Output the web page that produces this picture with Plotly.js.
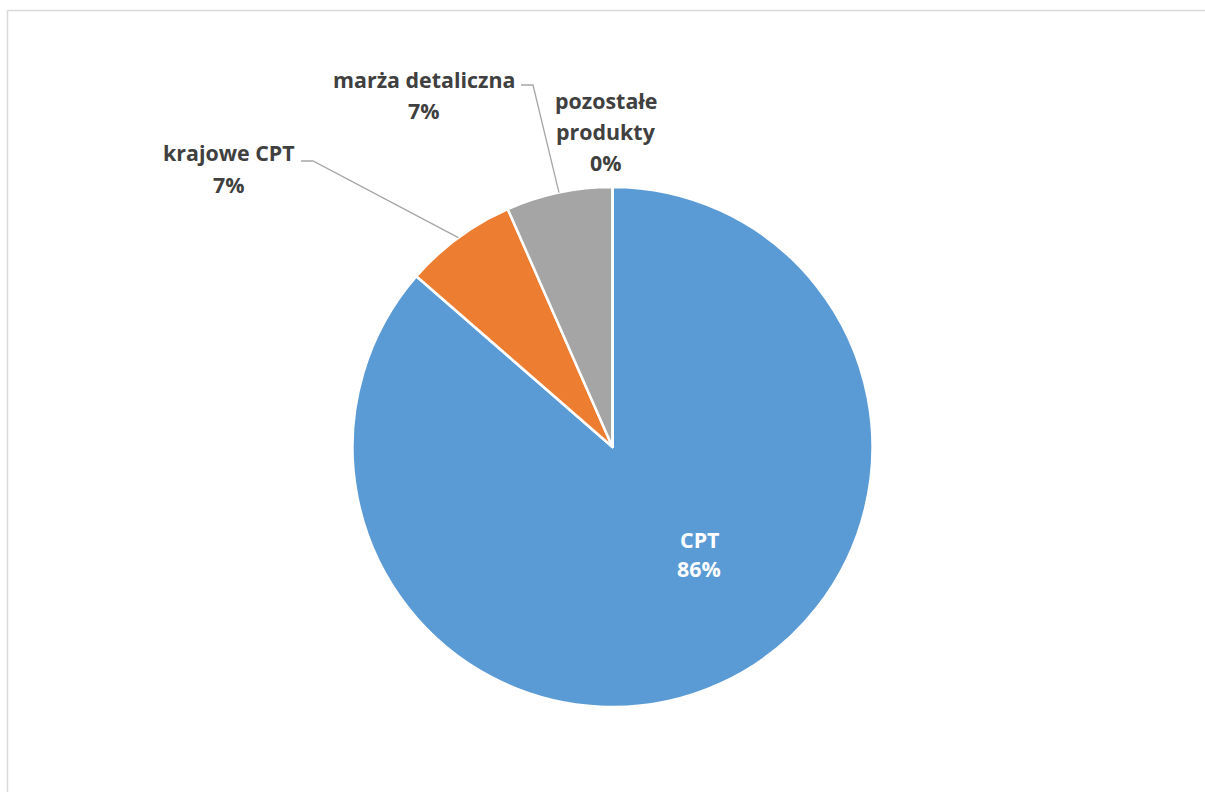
<!DOCTYPE html>
<html>
<head>
<meta charset="utf-8">
<script src="https://cdn.plot.ly/plotly-3.0.1.min.js"></script>
<style>
  html, body { margin: 0; padding: 0; background: #ffffff; }
  #chart { width: 1205px; height: 792px; }
</style>
</head>
<body>
<div id="chart"></div>
<script>
// ---- data ----
const categories = ["CPT", "krajowe CPT", "marża detaliczna", "pozostałe produkty"];
const shares = [86.4, 7.0, 6.6, 0.0];
const sliceColors = ["#5B9BD5", "#ED7D31", "#A5A5A5", "#FFC000"];

// ---- geometry / layout ----
const W = 1205, H = 792;
const cx = 612.5, cy = 447, R = 260;
const px = x => x / W;
const py = y => 1 - y / H;

const total = shares.reduce((a, b) => a + b, 0);
const pct = shares.map(v => Math.round(v / total * 100) + "%");

// midpoint angle of each slice (clockwise from 12 o'clock) -> edge point in pixels
let acc = 0;
const edge = shares.map(v => {
  const mid = (acc + v / 2) / total * 2 * Math.PI;
  acc += v;
  return [cx + R * Math.sin(mid), cy - R * Math.cos(mid)];
});

const textColor = "#404040";
const fontFam = "'Open Sans', 'Noto Sans', sans-serif";
const fs = 21.4;

// label placement (pixel centre of first line, line step, colour, leader start)
const labelSpec = [
  { lines: [categories[0], pct[0]], x: 699, y: 539, step: 29, color: "#ffffff", leader: null },
  { lines: [categories[1], pct[1]], x: 229, y: 153, step: 32, color: textColor, leader: [301, 161, 313] },
  { lines: [categories[2], pct[2]], x: 424, y: 80, step: 31, color: textColor, leader: [521, 85, 533] },
  { lines: ["pozostałe", "produkty", pct[3]], x: 606, y: 100, step: 31, color: textColor, leader: null }
];

const annotations = [];
const shapes = [];
labelSpec.forEach((s, i) => {
  s.lines.forEach((t, k) => {
    annotations.push({
      xref: "paper", yref: "paper",
      x: px(s.x), y: py(s.y + k * s.step),
      xanchor: "center", yanchor: "middle",
      text: "<b>" + t + "</b>",
      showarrow: false,
      font: { family: fontFam, size: fs, color: s.color }
    });
  });
  if (s.leader) {
    const [x0, y0, x1] = s.leader;
    const [ex, ey] = edge[i];
    shapes.push({
      type: "path", xref: "paper", yref: "paper",
      path: `M ${px(x0)} ${py(y0)} L ${px(x1)} ${py(y0)} L ${px(ex)} ${py(ey)}`,
      line: { color: "#A6A6A6", width: 1.3 }
    });
  }
});

// chart-area border (light grey, partially cut by the screenshot)
shapes.push({ type: "line", xref: "paper", yref: "paper", x0: px(7.5), x1: px(W + 5), y0: py(10.5), y1: py(10.5), line: { color: "#D9D9D9", width: 1.5 } });
shapes.push({ type: "line", xref: "paper", yref: "paper", x0: px(7.5), x1: px(7.5), y0: py(10.5), y1: py(H + 5), line: { color: "#D9D9D9", width: 1.5 } });

const trace = {
  type: "pie",
  labels: categories,
  values: shares,
  sort: false,
  direction: "clockwise",
  rotation: 0,
  textinfo: "none",
  hoverinfo: "label+percent",
  marker: { colors: sliceColors, line: { color: "#ffffff", width: 2.5 } },
  domain: { x: [px(cx - R), px(cx + R)], y: [py(cy + R), py(cy - R)] },
  showlegend: false
};

const layout = {
  width: W, height: H,
  margin: { l: 0, r: 0, t: 0, b: 0 },
  paper_bgcolor: "#ffffff",
  plot_bgcolor: "#ffffff",
  showlegend: false,
  annotations: annotations,
  shapes: shapes
};

Plotly.newPlot("chart", [trace], layout, { displayModeBar: false, staticPlot: true });
</script>
</body>
</html>
